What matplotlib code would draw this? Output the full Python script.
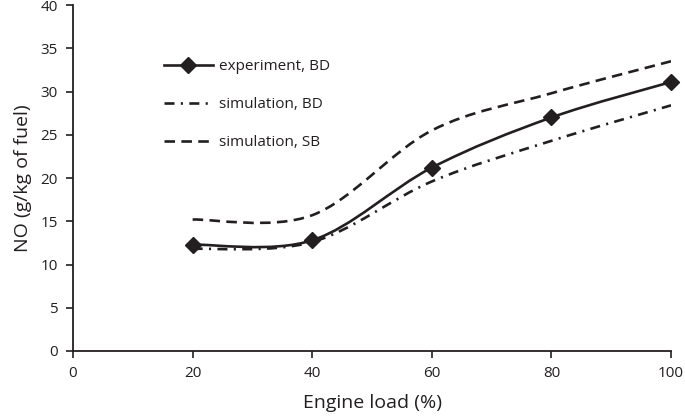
import numpy as np
import matplotlib
matplotlib.use('Agg')
import matplotlib.pyplot as plt
from matplotlib.path import Path
from matplotlib.patches import PathPatch
from matplotlib.lines import Line2D

# data
load = [20, 40, 60, 80, 100]
exp_bd = [12.3, 12.8, 21.2, 27.0, 31.1]
sim_bd = [11.8, 12.6, 19.6, 24.3, 28.4]
sim_sb = [15.2, 15.7, 25.5, 29.8, 33.5]

ink = '#231f20'
plt.rcParams['font.family'] = ['Open Sans', 'DejaVu Sans']


def smooth_path(x, y):
    # excel-style smoothed line: catmull-rom converted to cubic bezier
    p = np.column_stack([x, y]).astype(float)
    pts = np.vstack([p[0], p, p[-1]])
    verts = [p[0]]
    codes = [Path.MOVETO]
    for i in range(1, len(pts) - 2):
        c1 = pts[i] + (pts[i + 1] - pts[i - 1]) / 6
        c2 = pts[i + 1] - (pts[i + 2] - pts[i]) / 6
        verts += [c1, c2, pts[i + 1]]
        codes += [Path.CURVE4] * 3
    return Path(verts, codes)


fig = plt.figure(figsize=(6.85, 4.19), dpi=100)
ax = fig.add_axes([0.1066, 0.1623, 0.873, 0.8257])

lw = 1.9
styles = {
    'sim_sb': (0, (4.0, 2.4)),
    'sim_bd': (0, (3.8, 2.4, 0.8, 2.4)),
    'exp_bd': '-',
}
for key, yy in [('sim_sb', sim_sb), ('sim_bd', sim_bd), ('exp_bd', exp_bd)]:
    ax.add_patch(PathPatch(smooth_path(load, yy), fill=False, edgecolor=ink,
                           lw=lw, linestyle=styles[key], capstyle='butt'))
ax.plot(load, exp_bd, 'D', color=ink, ms=8, ls='none', clip_on=False, zorder=5)

ax.set_xlim(0, 100)
ax.set_ylim(0, 40)
ax.set_xticks(np.arange(0, 101, 20))
ax.set_yticks(np.arange(0, 41, 5))
for s in ['top', 'right']:
    ax.spines[s].set_visible(False)
for s in ['left', 'bottom']:
    ax.spines[s].set_linewidth(1.3)
    ax.spines[s].set_color(ink)
ax.tick_params(direction='out', length=5, width=1.2, color=ink,
               labelsize=11, labelcolor=ink, pad=6)

ax.set_xlabel('Engine load (%)', fontsize=14, color=ink, labelpad=9)
ax.set_ylabel('NO (g/kg of fuel)', fontsize=14, color=ink, labelpad=6)

handles = [
    Line2D([], [], color=ink, lw=lw, marker='D', ms=8, label='experiment, BD'),
    Line2D([], [], color=ink, lw=lw, ls=styles['sim_bd'], label='simulation, BD'),
    Line2D([], [], color=ink, lw=lw, ls=styles['sim_sb'], label='simulation, SB'),
]
fig.legend(handles=handles, loc='upper left', bbox_to_anchor=(0.219, 0.891),
           frameon=False, fontsize=11, handlelength=3.2, handletextpad=0.4,
           labelspacing=1.5, labelcolor=ink)

fig.savefig('out.png', dpi=100)
